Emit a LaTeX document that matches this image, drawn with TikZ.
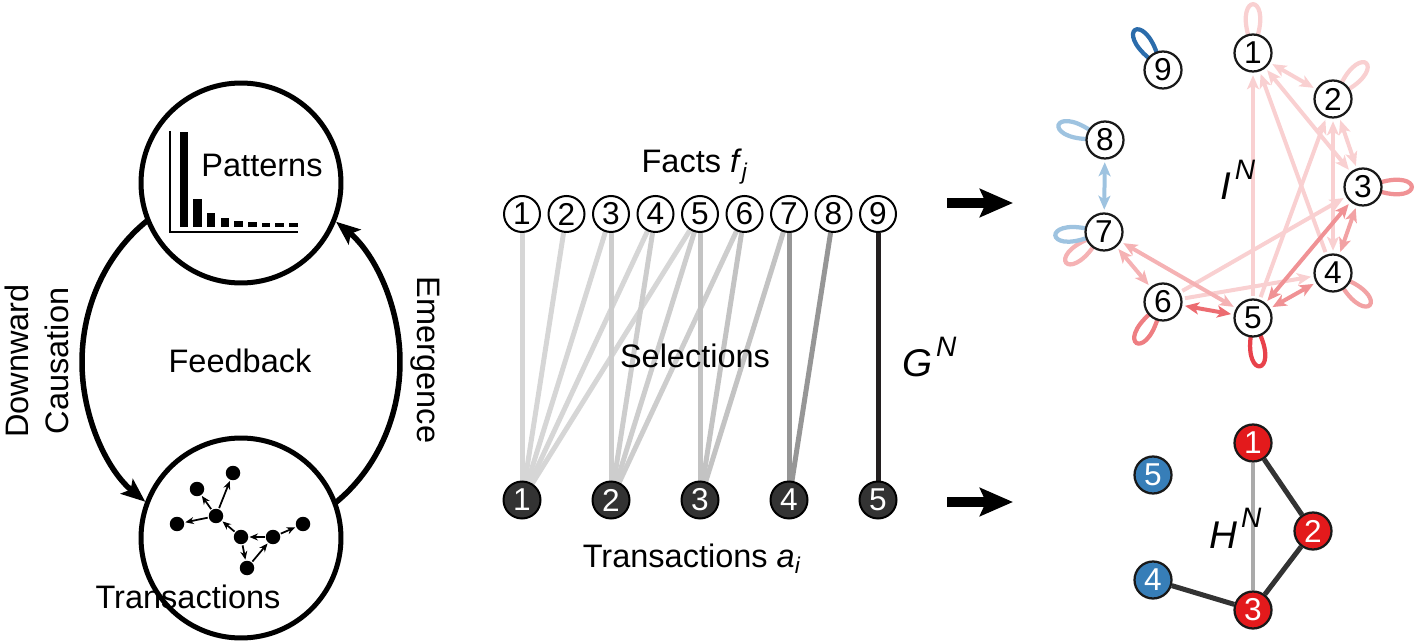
\documentclass[tikz,border=0pt]{standalone}
\usepackage{fontspec}
\setmainfont{Liberation Sans}
\usepackage{tikz}
\usetikzlibrary{calc,arrows.meta,backgrounds}

\definecolor{selA}{RGB}{214,214,214}
\definecolor{selB}{RGB}{205,205,205}
\definecolor{selC}{RGB}{195,195,195}
\definecolor{selD}{RGB}{150,150,150}
\definecolor{selE}{RGB}{35,31,32}
\definecolor{ipale}{RGB}{249,208,209}
\definecolor{ired1}{RGB}{245,178,180}
\definecolor{ired2}{RGB}{242,162,164}
\definecolor{ired3}{RGB}{240,146,149}
\definecolor{ired4}{RGB}{238,126,130}
\definecolor{ired5}{RGB}{236,108,113}
\definecolor{ired6}{RGB}{232,66,75}
\definecolor{iblue}{RGB}{158,195,224}
\definecolor{idblue}{RGB}{43,108,171}
\definecolor{hred}{RGB}{227,26,28}
\definecolor{hblue}{RGB}{55,126,184}
\definecolor{hgray}{RGB}{170,170,170}
\definecolor{hdark}{RGB}{51,51,51}

\newcommand{\netname}[1]{{\itshape #1\kern0.1em\raisebox{0.52em}{\fontsize{16}{16}\selectfont N}}}

\tikzset{
  txt/.style={font=\fontsize{18.5}{22.5}\selectfont},
  gtxt/.style={font=\fontsize{22}{26}\selectfont},
  bigcirc/.style={circle,draw,line width=0.1cm,fill=white,minimum size=4cm,inner sep=0pt},
  bigline/.style={line width=0.11cm,-{Stealth[length=0.48cm,width=0.38cm,inset=0.1cm]}},
  tdot/.style={circle,fill=black,minimum size=0.29cm,inner sep=0pt},
  smallarrow/.style={line width=0.035cm,-{Stealth[length=0.17cm,width=0.14cm]},shorten >=0.5pt,shorten <=0.5pt},
  fact/.style={circle,draw,line width=0.04cm,fill=white,minimum size=0.72cm,inner sep=0pt,font=\fontsize{18}{18}\selectfont},
  trans/.style={circle,draw=black,line width=0.04cm,fill=hdark,text=white,minimum size=0.74cm,inner sep=0pt,font=\fontsize{18}{18}\selectfont},
  selline/.style={line width=0.1cm},
  fatarrow/.style={line width=0.2cm,-{Stealth[length=0.66cm,width=0.56cm,inset=0.12cm]}},
  inode/.style={circle,draw=black!90,line width=0.045cm,fill=white,minimum size=0.74cm,inner sep=0pt,font=\fontsize{18}{18}\selectfont},
  hnode/.style={inode,text=white},
  iedge/.style={line width=0.08cm,shorten >=1.5pt,shorten <=1.5pt},
  oneway/.style={-{Stealth[length=0.28cm,width=0.24cm,inset=0.07cm]}},
  twoway/.style={{Stealth[length=0.28cm,width=0.24cm,inset=0.07cm]}-{Stealth[length=0.28cm,width=0.24cm,inset=0.07cm]}},
  iloop/.style={line width=0.085cm},
  hedge/.style={line width=0.1cm}
}

\begin{document}
\begin{tikzpicture}[x=0.02cm,y=-0.02cm]
\useasboundingbox (0,0) rectangle (1419,641);

\node[bigcirc] (pat) at (241,183) {};
\node[bigcirc] (tra) at (241,538) {};
\coordinate (fbc) at (241,362);
\begin{scope}[on background layer]
\draw[bigline] ($(fbc)+(235:159 and 175)$) arc[start angle=235,end angle=127,x radius=159,y radius=175];
\draw[bigline] ($(fbc)+(55:159 and 175)$) arc[start angle=55,end angle=-53.3,x radius=159,y radius=175];
\end{scope}

\draw[line width=0.04cm] (170,131) -- (170,232) -- (298,232);
\foreach \k/\top in {0/132,1/199,2/213,3/218,4/221,5/222,6/223,7/223,8/223}
  \fill ({179.5+13.7*\k},\top) rectangle ++(8.5,{227-\top});
\node[txt] (pattxt) at (262,165) {Patterns};

\foreach \n/\x/\y in {d1/233/473,d2/197/489,d3/216/516,d4/177/524,d5/241/537,d6/273/537,d7/303/524,d8/247/568}
  \node[tdot] (\n) at (\x,\y) {};
\foreach \s/\t in {d3/d1,d3/d2,d3/d4,d5/d3,d5/d8,d8/d6,d6/d5,d6/d7}
  \draw[smallarrow] (\s) -- (\t);

\node[txt] (trtxt) at (188,597) {Transactions};
\node[txt] (fbtxt) at (240,361) {Feedback};
\node[txt,rotate=90,align=center] (dctxt) at (37,361) {Downward\\Causation};
\node[txt,rotate=-90] (emtxt) at (425,360) {Emergence};

\foreach \j in {1,...,9}
  \node[fact] (f\j) at ({522+44.5*(\j-1)},214) {\j};
\foreach \i in {1,...,5}
  \node[trans] (a\i) at ({522+89*(\i-1)},500) {\i};
\begin{scope}[on background layer]
\foreach \i/\j/\c in {1/1/selA,1/2/selA,1/3/selA,1/4/selA,1/5/selA,2/3/selB,2/4/selB,2/5/selB,2/6/selB,3/5/selC,3/6/selC,3/7/selC,4/7/selD,4/8/selD,5/9/selE}
  \draw[selline,\c] (f\j) -- (a\i);
\end{scope}
\node[txt,anchor=base] (factstxt) at (695,173) {Facts \textit{f}\textsubscript{\textit{j}}};
\node[txt,anchor=base] (seltxt) at (695,368) {Selections};
\node[txt,anchor=base] (atxt) at (692,567) {Transactions \textit{a}\textsubscript{\textit{i}}};
\node[gtxt,anchor=base west] (gtxt) at (896,377) {\netname{G}};

\coordinate (gi0) at (947,203);
\coordinate (gi1) at (1013,203);
\coordinate (gh0) at (947,502);
\coordinate (gh1) at (1013,502);
\draw[fatarrow] (gi0) -- (gi1);
\draw[fatarrow] (gh0) -- (gh1);

\foreach \n/\x/\y in {1/1253/53,2/1333/99,3/1363/187,4/1333/273,5/1253/318,6/1163/302,7/1104/232,8/1105/140,9/1163/70}
  \node[inode] (i\n) at (\x,\y) {\n};
\begin{scope}[on background layer]
\foreach \s/\t/\c/\w in {5/1/ipale/oneway,1/2/ipale/twoway,1/3/ipale/twoway,4/1/ipale/oneway,2/3/ipale/twoway,2/4/ipale/twoway,5/2/ipale/oneway,6/3/ipale/oneway,6/4/ipale/oneway,7/5/ired1/twoway,7/6/ired1/twoway,3/4/ired2/twoway,3/5/ired3/twoway,4/5/ired3/twoway,5/6/ired5/twoway,8/7/iblue/twoway}
  \draw[iedge,\c,\w] (i\s) -- (i\t);
\foreach \n/\ang/\c in {1/-90/ipale,2/-47/ipale,3/0/ired3,4/41/ired2,5/82/ired6,6/123/ired4,7/141/ired1,7/176/iblue,8/198/iblue,9/235/idblue}
  \draw[iloop,\c] ($(i\n)+(\ang-15:17)$) .. controls ($(i\n)+(\ang-16:62)$) and ($(i\n)+(\ang+16:62)$) .. ($(i\n)+(\ang+15:17)$);
\end{scope}
\node[gtxt,anchor=base west] (itxt) at (1214,200) {\netname{I}};

\foreach \n/\x/\y/\c in {1/1253/443/hred,2/1313/531/hred,3/1253/610/hred,4/1153/580/hblue,5/1153/475/hblue}
  \node[hnode,fill=\c] (h\n) at (\x,\y) {\n};
\begin{scope}[on background layer]
\draw[hedge,hgray,line width=0.08cm] (h1) -- (h3);
\draw[hedge,hdark] (h1) -- (h2) (h2) -- (h3) (h3) -- (h4);
\end{scope}
\node[gtxt,anchor=base west] (htxt) at (1203,548) {\netname{H}};
\end{tikzpicture}
\end{document}
